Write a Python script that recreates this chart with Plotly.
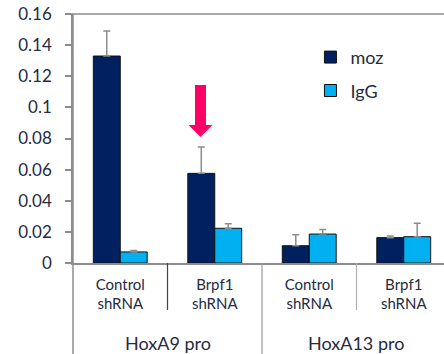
import plotly.graph_objects as go

# ---- data ----
positions = [0, 1, 2, 3]
sub_labels = ["Control<br>shRNA", "Brpf1<br>shRNA", "Control<br>shRNA", "Brpf1<br>shRNA"]
group_labels = ["HoxA9 pro", "HoxA13 pro"]
group_centers = [0.5, 2.5]
moz = [0.133, 0.0576, 0.0111, 0.0163]
moz_err = [0.016, 0.017, 0.007, 0.001]
igg = [0.0071, 0.0223, 0.0186, 0.0169]
igg_err = [0.001, 0.003, 0.003, 0.0086]
y_ticks = [0, 0.02, 0.04, 0.06, 0.08, 0.10, 0.12, 0.14, 0.16]
y_ticktext = ["0", "0.02", "0.04", "0.06", "0.08", "0.1", "0.12", "0.14", "0.16"]

FONT = "Lato"
TXT = "#262b3f"
GRAY = "#8c8c8c"

fig = go.Figure()
fig.add_trace(go.Bar(
    x=positions, y=moz, name="moz", legendgroup="a",
    marker=dict(color="#002060", line=dict(color="#111111", width=1)),
    error_y=dict(type="data", array=moz_err, arrayminus=[0]*4, symmetric=False,
                 color=GRAY, thickness=1.5, width=3.5),
))
fig.add_trace(go.Bar(
    x=positions, y=igg, name="IgG", legendgroup="b",
    marker=dict(color="#00B0F0", line=dict(color="#111111", width=1)),
    error_y=dict(type="data", array=igg_err, arrayminus=[0]*4, symmetric=False,
                 color=GRAY, thickness=1.5, width=3.5),
))

bottom = -91 / 249
shapes = [
    # top border line
    dict(type="line", xref="paper", yref="paper", x0=-6 / 371, x1=1, y0=1, y1=1,
         line=dict(color=GRAY, width=1.5)),
    # left axis extension down
    dict(type="line", xref="paper", yref="paper", x0=0, x1=0, y0=1, y1=bottom,
         line=dict(color=GRAY, width=1.5)),
    # dividers
    dict(type="line", xref="x", yref="paper", x0=0.5, x1=0.5, y0=0, y1=-47 / 249,
         line=dict(color="#444444", width=1.2)),
    dict(type="line", xref="x", yref="paper", x0=1.5, x1=1.5, y0=0, y1=bottom,
         line=dict(color="#9a9a9a", width=1.2)),
    dict(type="line", xref="x", yref="paper", x0=2.5, x1=2.5, y0=0, y1=-47 / 249,
         line=dict(color="#b0b0b0", width=1.2)),
    # pink arrow
    dict(type="path", xref="x", yref="y",
         path="M 0.791 0.1144 L 0.907 0.1144 L 0.907 0.0887 L 0.976 0.0887 "
              "L 0.849 0.0810 L 0.722 0.0887 L 0.791 0.0887 Z",
         fillcolor="#FF0066", line=dict(width=0)),
]

annotations = [
    dict(x=c, y=-80 / 249, xref="x", yref="paper", text=t, showarrow=False,
         font=dict(family=FONT, size=18, color=TXT), yanchor="middle")
    for c, t in zip(group_centers, group_labels)
]

fig.update_layout(
    width=444, height=354,
    margin=dict(l=73, r=0, t=14, b=91, autoexpand=False),
    paper_bgcolor="white", plot_bgcolor="white",
    barmode="group", bargap=0.43, bargroupgap=0,
    showlegend=True,
    legend=dict(x=0.64, y=0.9, xanchor="left", yanchor="top",
                font=dict(family=FONT, size=18, color=TXT),
                tracegroupgap=7, traceorder="grouped",
                bgcolor="rgba(0,0,0,0)"),
    xaxis=dict(range=[-0.5, 3.426], tickvals=positions, ticktext=sub_labels,
               showline=True, linecolor=GRAY, linewidth=1.5, ticks="",
               showgrid=False, zeroline=False, automargin=False,
               tickfont=dict(family=FONT, size=15, color=TXT),
               ticklabelstandoff=7),
    yaxis=dict(range=[0, 0.16], tickvals=y_ticks, ticktext=y_ticktext,
               showline=True, linecolor=GRAY, linewidth=1.5,
               ticks="outside", ticklen=6, tickcolor=GRAY, tickwidth=1.5,
               showgrid=False, zeroline=False, automargin=False,
               ticklabeloverflow="allow",
               tickfont=dict(family=FONT, size=17, color=TXT),
               ticklabelstandoff=10),
    shapes=shapes, annotations=annotations,
)

# remove the default 8px page margin so the figure fills the window exactly
fig.write_html("out.html",
               config={"displayModeBar": False},
               post_script="document.body.style.margin='0';"
                           "document.body.style.overflow='hidden';")
